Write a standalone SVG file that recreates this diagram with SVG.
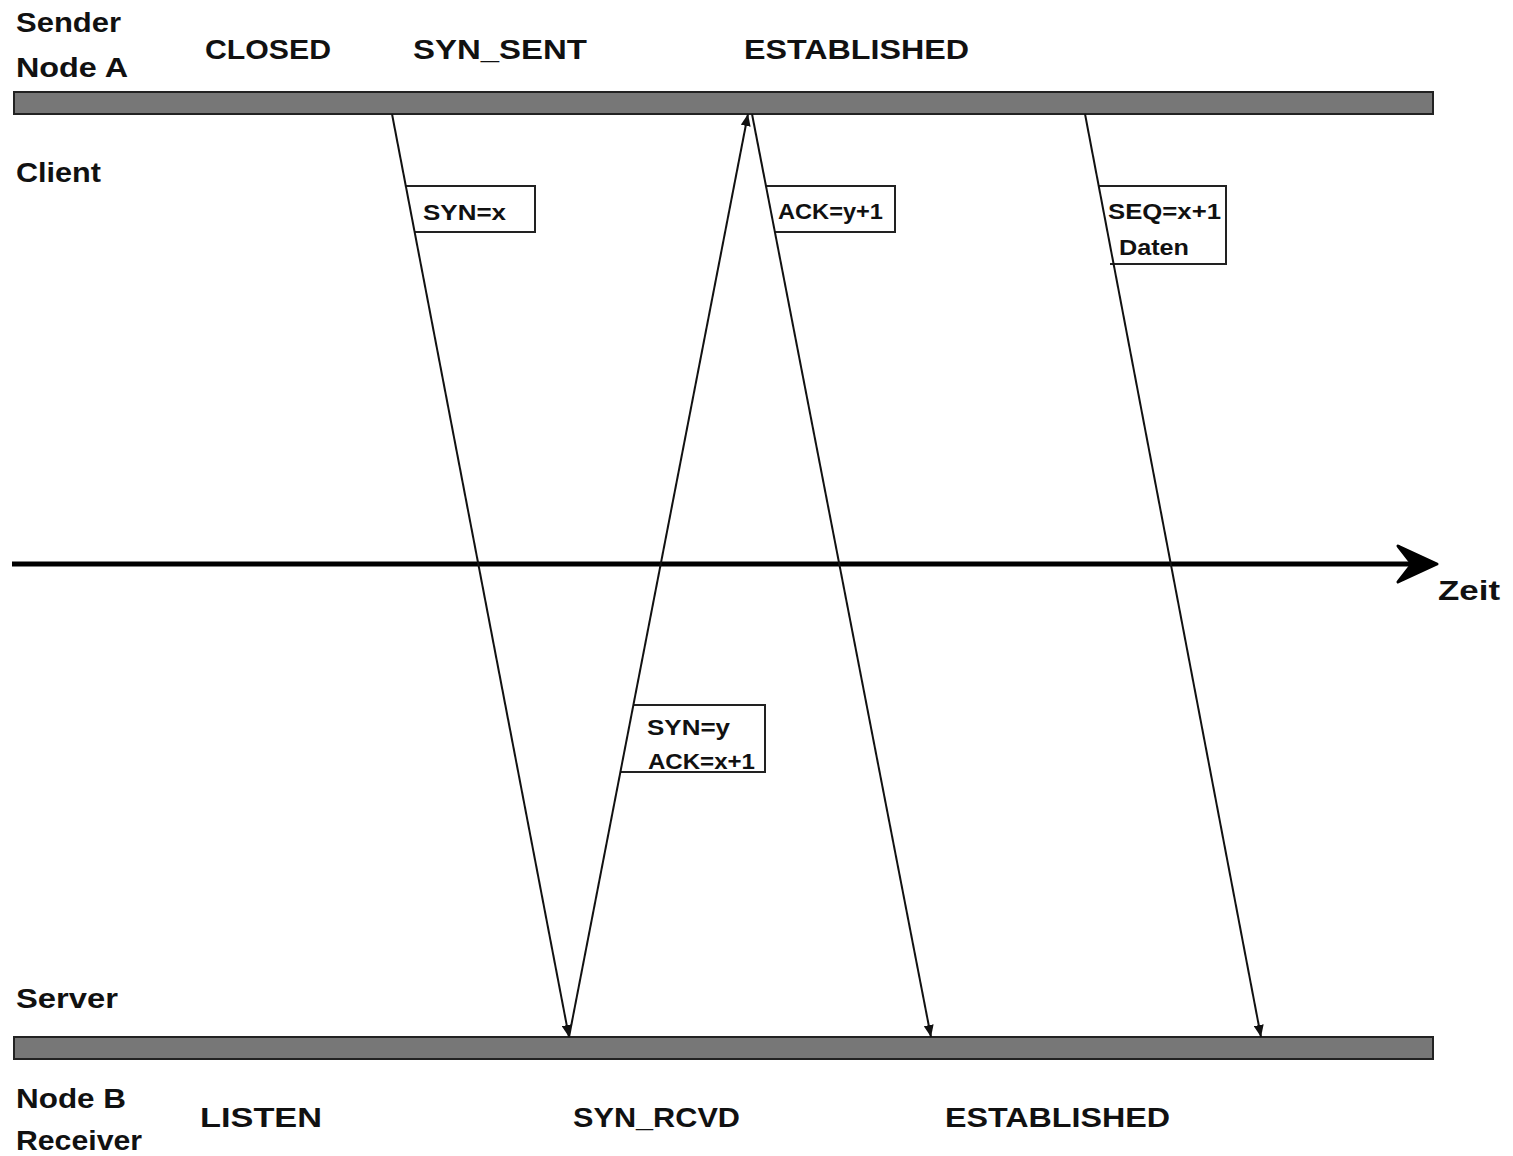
<svg xmlns="http://www.w3.org/2000/svg" width="1513" height="1156" viewBox="0 0 1513 1156">
<style>
.h{font-family:"Liberation Sans",Arial,sans-serif;font-weight:bold;font-size:28px;fill:#111}
.l{font-family:"Liberation Sans",Arial,sans-serif;font-weight:bold;font-size:22px;fill:#111}
.bar{fill:#777;stroke:#222;stroke-width:2}
.box{fill:#fff;stroke:#222;stroke-width:2}
.msg{stroke:#111;stroke-width:2;fill:none;marker-end:url(#ah)}
</style>
<defs>
<marker id="ah" viewBox="0 0 12 10" refX="12" refY="5" markerWidth="12" markerHeight="10" markerUnits="userSpaceOnUse" orient="auto">
<path d="M0,0 L12,5 L0,10 Z" fill="#111"/>
</marker>
</defs>
<rect width="1513" height="1156" fill="#fff"/>
<g id="nodeA">
<rect class="bar" x="14" y="92" width="1419" height="22"/>
<text class="h" x="16" y="32" textLength="105" lengthAdjust="spacingAndGlyphs">Sender</text>
<text class="h" x="16" y="77" textLength="112" lengthAdjust="spacingAndGlyphs">Node A</text>
<text class="h" x="16" y="182" textLength="85" lengthAdjust="spacingAndGlyphs">Client</text>
<text class="h" x="205" y="59" textLength="126" lengthAdjust="spacingAndGlyphs">CLOSED</text>
<text class="h" x="413" y="59" textLength="174" lengthAdjust="spacingAndGlyphs">SYN_SENT</text>
<text class="h" x="744" y="59" textLength="225" lengthAdjust="spacingAndGlyphs">ESTABLISHED</text>
</g>
<g id="nodeB">
<rect class="bar" x="14" y="1037" width="1419" height="22"/>
<text class="h" x="16" y="1008" textLength="102" lengthAdjust="spacingAndGlyphs">Server</text>
<text class="h" x="16" y="1108" textLength="110" lengthAdjust="spacingAndGlyphs">Node B</text>
<text class="h" x="16" y="1150" textLength="126" lengthAdjust="spacingAndGlyphs">Receiver</text>
<text class="h" x="200" y="1127" textLength="122" lengthAdjust="spacingAndGlyphs">LISTEN</text>
<text class="h" x="573" y="1127" textLength="167" lengthAdjust="spacingAndGlyphs">SYN_RCVD</text>
<text class="h" x="945" y="1127" textLength="225" lengthAdjust="spacingAndGlyphs">ESTABLISHED</text>
</g>
<g id="timeaxis">
<line x1="12" y1="564" x2="1415" y2="564" stroke="#000" stroke-width="5"/>
<path d="M1398,546 L1437,564 L1398,582 L1412,564 Z" fill="#000" stroke="#000" stroke-width="3" stroke-linejoin="round"/>
<text class="h" x="1438" y="600" textLength="62" lengthAdjust="spacingAndGlyphs">Zeit</text>
</g>
<g id="label-syn">
<path class="box" d="M406,186 L535,186 L535,232 L415,232"/>
<text class="l" x="423" y="220" textLength="83" lengthAdjust="spacingAndGlyphs">SYN=x</text>
</g>
<g id="label-ack">
<path class="box" d="M766,186 L895,186 L895,232 L775,232"/>
<text class="l" x="778" y="219" textLength="105" lengthAdjust="spacingAndGlyphs">ACK=y+1</text>
</g>
<g id="label-data">
<path class="box" d="M1099,186 L1226,186 L1226,264 L1110,264"/>
<text class="l" x="1108" y="219" textLength="113" lengthAdjust="spacingAndGlyphs">SEQ=x+1</text>
<text class="l" x="1119" y="255" textLength="70" lengthAdjust="spacingAndGlyphs">Daten</text>
</g>
<g id="label-synack">
<path class="box" d="M634,705 L765,705 L765,772 L621,772"/>
<text class="l" x="647" y="735" textLength="83" lengthAdjust="spacingAndGlyphs">SYN=y</text>
<text class="l" x="648" y="769" textLength="107" lengthAdjust="spacingAndGlyphs">ACK=x+1</text>
</g>
<g id="connectors">
<line class="msg" x1="392" y1="114" x2="569" y2="1037"/>
<line class="msg" x1="569" y1="1037" x2="748" y2="114"/>
<line class="msg" x1="752" y1="114" x2="931" y2="1037"/>
<line class="msg" x1="1085" y1="114" x2="1261" y2="1037"/>
</g>
</svg>
